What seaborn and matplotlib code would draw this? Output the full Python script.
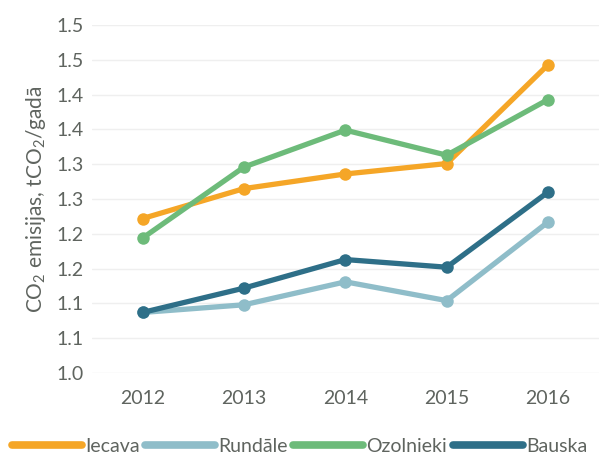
import matplotlib
matplotlib.use("Agg")
import matplotlib.pyplot as plt
from matplotlib.lines import Line2D
import seaborn as sns
import pandas as pd

years = ["2012", "2013", "2014", "2015", "2016"]
iecava = [1.222, 1.265, 1.286, 1.301, 1.443]
rundale = [1.087, 1.098, 1.131, 1.104, 1.217]
ozolnieki = [1.194, 1.296, 1.349, 1.313, 1.393]
bauska = [1.087, 1.122, 1.163, 1.152, 1.260]
series_names = ["Iecava", "Rundāle", "Ozolnieki", "Bauska"]
colors = ["#F5A627", "#8FBDC9", "#6DBB7A", "#2E6F88"]
ytick_labels = ["1.0", "1.1", "1.1", "1.2", "1.2", "1.3", "1.3", "1.4", "1.4", "1.5", "1.5"]

rows = []
for name, vals in zip(series_names, [iecava, rundale, ozolnieki, bauska]):
    for y, v in zip(years, vals):
        rows.append({"year": y, "value": v, "series": name})
df = pd.DataFrame(rows)

sns.set_theme(style="white")
plt.rcParams['font.family'] = ['Lato', 'DejaVu Sans']
plt.rcParams['mathtext.default'] = 'regular'

text_color = "#5F645F"
fig = plt.figure(figsize=(5.99, 4.59), dpi=100)
ax = fig.add_axes([0.1536, 0.1874, 0.846, 0.758])

sns.lineplot(data=df, x="year", y="value", hue="series", hue_order=series_names,
             palette=colors, marker="o", markersize=9, markeredgewidth=0,
             linewidth=3.8, sort=False, ax=ax, legend=False)

ax.set_ylim(1.0, 1.5)
ax.set_xlim(-0.5, 4.5)
ticks = [1.0 + 0.05 * i for i in range(11)]
ax.set_yticks(ticks)
ax.set_yticklabels(ytick_labels)
ax.yaxis.grid(True, color="#EFEFEF", linewidth=1.0)
ax.set_axisbelow(True)
for s in ax.spines.values():
    s.set_visible(False)
ax.tick_params(axis="both", length=0, labelsize=14, colors=text_color, pad=6)
ax.tick_params(axis="x", pad=12)
ax.set_xlabel("")
ax.set_ylabel("CO$_2$ emisijas, tCO$_2$/gadā", fontsize=15, color=text_color, labelpad=6)

handles = [Line2D([0], [0], color=c, linewidth=5.5, solid_capstyle="round") for c in colors]
ax.legend(handles, series_names, loc="center", bbox_to_anchor=(0.5, -0.028),
          bbox_transform=fig.transFigure, ncol=4, frameon=False, fontsize=14,
          handlelength=3.6, handletextpad=0.15, columnspacing=0.3,
          labelcolor=text_color)
ax.get_legend().set_bbox_to_anchor((0.5, 0.028), transform=fig.transFigure)

fig.savefig("out.png", dpi=100)
